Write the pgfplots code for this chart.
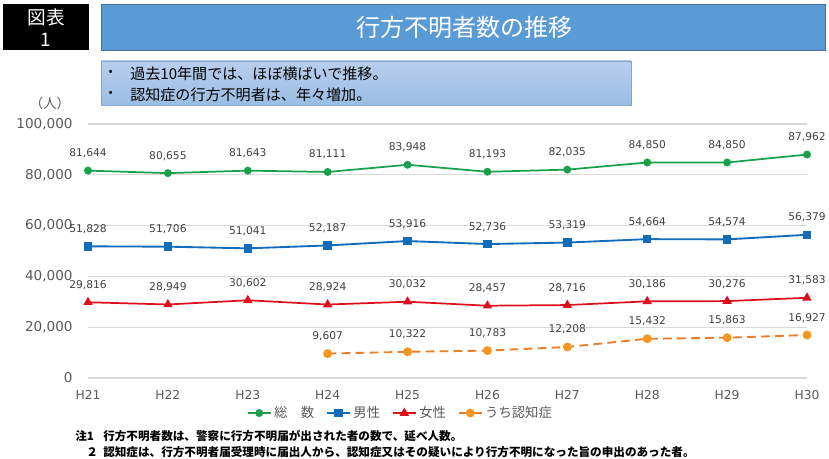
\documentclass[border=0pt]{standalone}
\usepackage{pgfplots}
\pgfplotsset{compat=1.18}
\usepackage{fontspec}
\setmainfont{DejaVu Sans}
\newfontfamily\cjk{Noto Sans CJK JP}
\definecolor{cgreen}{RGB}{24,160,75}
\definecolor{cblue}{RGB}{18,108,186}
\definecolor{cred}{RGB}{220,16,28}
\definecolor{corange}{RGB}{236,125,40}
\definecolor{corangem}{RGB}{245,150,30}
\definecolor{gridgray}{RGB}{217,217,217}
\definecolor{tickgray}{RGB}{89,89,89}
\definecolor{labelgray}{RGB}{64,64,64}
\definecolor{titleblue}{RGB}{91,155,213}
\definecolor{titleborder}{RGB}{65,113,156}
\definecolor{boxtop}{RGB}{184,206,236}
\definecolor{boxbot}{RGB}{155,189,229}
\definecolor{boxborder}{RGB}{130,165,210}
\begin{document}
\begin{tikzpicture}
\useasboundingbox (0,0) rectangle (621.75pt,-344.25pt);
\begin{axis}[
  at={(66pt,-283.5pt)}, anchor=south west,
  scale only axis, width=539.25pt, height=190.5pt,
  xmin=0, xmax=9, ymin=0, ymax=100000,
  xtick={0,...,9},
  xticklabels={H21,H22,H23,H24,H25,H26,H27,H28,H29,H30},
  ytick={0,20000,40000,60000,80000,100000},
  scaled y ticks=false,
  ymajorgrids,
  major grid style={draw=gridgray, line width=0.8pt},
  axis line style={draw=none},
  major tick length=0pt,
  /pgf/number format/fixed,
  /pgf/number format/precision=0,
  /pgf/number format/1000 sep={,},
  /pgf/number format/assume math mode=true,
  yticklabel style={font=\fontsize{10.2}{12}\selectfont, text=tickgray, xshift=-8pt},
  xticklabel style={font=\fontsize{9.2}{11}\selectfont, text=tickgray, yshift=-6pt},
  nodes near coords,
  every node near coord/.append style={font=\fontsize{8}{10}\selectfont, text=labelgray, anchor=center, yshift=13pt},
  legend columns=4,
  legend style={draw=none, fill=none, at={(0.435,-0.138)}, anchor=center,
    font=\cjk\fontsize{10}{12}\selectfont, text=tickgray,
    /tikz/every even column/.append style={column sep=7pt}},
]
\addplot[cgreen, line width=1.3pt, mark=*, mark size=2.3pt] coordinates {
(0,81644) (1,80655) (2,81643) (3,81111) (4,83948) (5,81193) (6,82035) (7,84850) (8,84850) (9,87962)};
\addlegendentry{総　数}
\addplot[cblue, line width=1.4pt, mark=square*, mark size=2.5pt] coordinates {
(0,51828) (1,51706) (2,51041) (3,52187) (4,53916) (5,52736) (6,53319) (7,54664) (8,54574) (9,56379)};
\addlegendentry{男性}
\addplot[cred, line width=1.3pt, mark=triangle*, mark size=2.8pt] coordinates {
(0,29816) (1,28949) (2,30602) (3,28924) (4,30032) (5,28457) (6,28716) (7,30186) (8,30276) (9,31583)};
\addlegendentry{女性}
\addplot[corange, line width=1.4pt, dash pattern=on 6.5pt off 4pt, mark=*, mark size=2.6pt,
  mark options={solid, fill=corangem, draw=corangem}] coordinates {
(3,9607) (4,10322) (5,10783) (6,12208) (7,15432) (8,15863) (9,16927)};
\addlegendentry{うち認知症}
\end{axis}
\begin{scope}[x=0.75pt,y=-0.75pt]
  \fill[black] (3,4) rectangle (89,50);
  \node[text=white, font=\cjk\fontsize{14}{16}\selectfont] at (46,17) {図表};
  \node[text=white, font=\cjk\fontsize{14}{16}\selectfont] at (46,40) {1};
  \draw[draw=titleborder, fill=titleblue, line width=0.6pt] (101,4) rectangle (825,50);
  \node[text=white, font=\cjk\fontsize{18}{20}\selectfont] at (464,27) {行方不明者数の推移};
  \draw[draw=boxborder, top color=boxtop, bottom color=boxbot, line width=0.6pt] (101,61) rectangle (631,105);
  \node[anchor=west, font=\cjk\fontsize{11}{13}\selectfont, inner sep=0pt] at (103,74) {・};
  \node[anchor=west, font=\cjk\fontsize{11}{13}\selectfont, inner sep=0pt] at (103,95) {・};
  \node[anchor=west, font=\cjk\fontsize{11.3}{13}\selectfont, inner sep=0pt] at (130,74) {過去10年間では、ほぼ横ばいで推移。};
  \node[anchor=west, font=\cjk\fontsize{11.3}{13}\selectfont, inner sep=0pt] at (130,95) {認知症の行方不明者は、年々増加。};
  \node[text=tickgray, font=\cjk\fontsize{10}{12}\selectfont] at (50,103) {（人）};
  \node[anchor=west, font=\cjk\bfseries\fontsize{8.7}{10}\selectfont, inner sep=0pt] at (75,436) {注1};
  \node[anchor=west, font=\cjk\bfseries\fontsize{8.7}{10}\selectfont, inner sep=0pt] at (103,436) {行方不明者数は、警察に行方不明届が出された者の数で、延べ人数。};
  \node[anchor=west, font=\cjk\bfseries\fontsize{8.7}{10}\selectfont, inner sep=0pt] at (86,452) {２};
  \node[anchor=west, font=\cjk\bfseries\fontsize{8.7}{10}\selectfont, inner sep=0pt] at (103,452) {認知症は、行方不明者届受理時に届出人から、認知症又はその疑いにより行方不明になった旨の申出のあった者。};
\end{scope}
\end{tikzpicture}
\end{document}
